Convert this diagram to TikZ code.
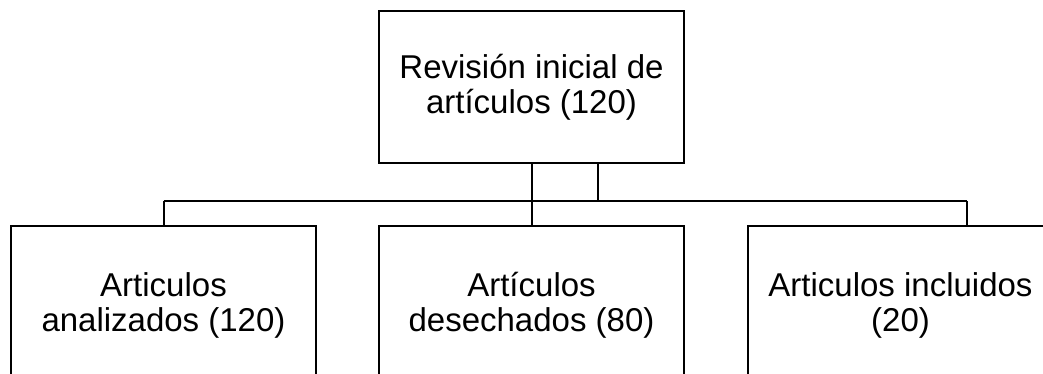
\documentclass[tikz,border=0pt]{standalone}
\usepackage{fontspec}
\setmainfont{Liberation Sans}
\begin{document}
\begin{tikzpicture}[x=1pt,y=1pt,
  box/.style={draw=black, line width=2pt, fill=white, minimum width=305pt, inner sep=0pt, align=center,
    font=\fontsize{33}{35}\selectfont},
  conn/.style={draw=black, line width=2pt}]
\useasboundingbox (0,0) rectangle (1043,-374);
\clip (0,0) rectangle (1043,-374);
\fill[white] (0,0) rectangle (1043,-374);
\node[box, minimum height=152pt] (top) at (531.5,-87) {Revisión inicial de\\artículos (120)};
\node[box, minimum height=160pt] (left) at (163.5,-305.5) {Articulos\\analizados (120)};
\node[box, minimum height=160pt] (mid) at (531.5,-305.5) {Artículos\\desechados (80)};
\node[box, minimum height=160pt] (right) at (900.5,-305.5) {Articulos incluidos\\(20)};
\coordinate (jr) at (598,-201);
\coordinate (jl) at (163.5,-201);
\coordinate (jrr) at (967,-201);
\draw[conn] (top.south) -- (mid.north);
\draw[conn] (top.south -| jr) -- (jr);
\draw[conn] (jl) -- (jrr);
\draw[conn] (jl) -- (left.north);
\draw[conn] (jrr) -- (right.north -| jrr);
\end{tikzpicture}
\end{document}
